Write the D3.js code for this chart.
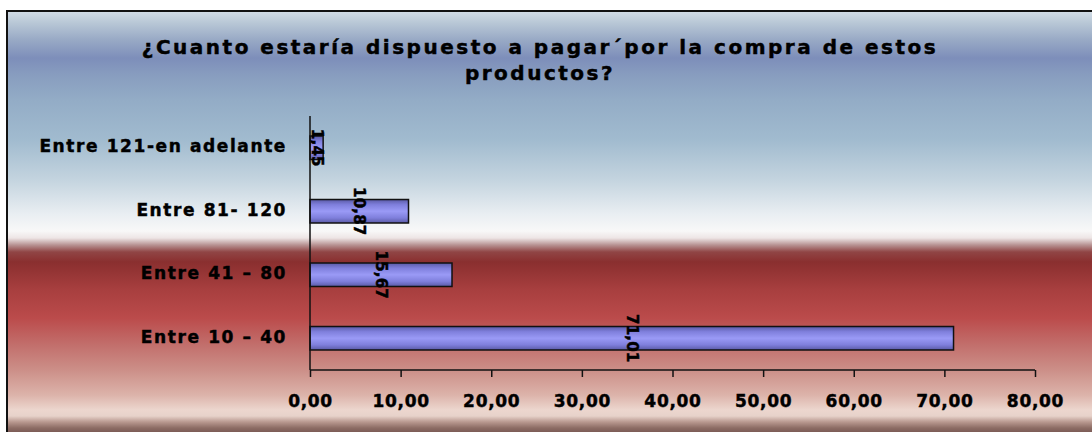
<!DOCTYPE html>
<html>
<head>
<meta charset="utf-8">
<script src="https://cdn.jsdelivr.net/npm/d3@7"></script>
<style>
  html, body { margin: 0; padding: 0; background: #ffffff; }
  svg { display: block; }
  text { font-family: "DejaVu Sans", Verdana, sans-serif; font-weight: bold; fill: #000; stroke: #000; stroke-width: 0.45px; }
</style>
</head>
<body>
<svg id="chart" width="1092" height="432"></svg>
<script>
// Price ranges (top to bottom) and share of respondents (%)
const categories = ["Entre 121-en adelante", "Entre 81- 120", "Entre 41 \u2013 80", "Entre 10 \u2013 40"];
const values = [1.45, 10.87, 15.67, 71.01];
const xTicks = [0, 10, 20, 30, 40, 50, 60, 70, 80];
const titleLines = ["\u00bfCuanto estar\u00eda dispuesto a pagar\u00b4por la compra de estos", "productos?"];

const W = 1092, H = 432;
const frame = { left: 7, top: 11 };
const plot = { left: 310, right: 1035, top: 116, bottom: 370 };

const fmt = v => v.toFixed(2).replace(".", ",");

const svg = d3.select("#chart");
const defs = svg.append("defs");

// Backdrop: blue sky fading to white, then a deep red band fading to pale pink
const bgStops = [
  [11, "#d3dde6"], [22, "#bac9d7"], [40, "#98a9c5"], [58, "#7d8eba"],
  [75, "#889dbf"], [100, "#93acc6"], [140, "#a1bbcf"], [180, "#c4d4df"],
  [214, "#e9eef2"], [231, "#f8f8f8"], [238, "#ede5e5"], [245, "#b79292"],
  [252, "#904545"], [262, "#8a2f2f"], [290, "#a83f3f"], [318, "#bb4b4b"],
  [345, "#c26f6c"], [370, "#cc8f88"], [395, "#dcb3aa"], [410, "#ecd6ce"],
  [416, "#e7d2ca"], [422, "#b8988f"], [428, "#8c6c64"], [432, "#7c5c56"]
];
const bg = defs.append("linearGradient")
  .attr("id", "bg").attr("gradientUnits", "userSpaceOnUse")
  .attr("x1", 0).attr("x2", 0).attr("y1", frame.top).attr("y2", H);
bg.selectAll("stop").data(bgStops).join("stop")
  .attr("offset", d => (d[0] - frame.top) / (H - frame.top))
  .attr("stop-color", d => d[1]);

// Cylindrical shading on the bars
const barGrad = defs.append("linearGradient")
  .attr("id", "bar").attr("x1", 0).attr("x2", 0).attr("y1", 0).attr("y2", 1);
barGrad.selectAll("stop").data([
  [0, "#5a5aa6"], [0.22, "#7f7fdc"], [0.5, "#9a9af6"], [0.78, "#7f7fdc"], [1, "#5a5aa6"]
]).join("stop").attr("offset", d => d[0]).attr("stop-color", d => d[1]);

svg.append("rect")
  .attr("x", frame.left).attr("y", frame.top)
  .attr("width", W - frame.left + 10).attr("height", H - frame.top + 10)
  .attr("fill", "url(#bg)").attr("stroke", "#111").attr("stroke-width", 2);

// Title
svg.append("g").selectAll("text").data(titleLines).join("text")
  .attr("x", 540).attr("y", (d, i) => 47 + i * 26)
  .attr("text-anchor", "middle").attr("dominant-baseline", "central")
  .attr("font-size", 20).attr("letter-spacing", 2.5)
  .text(d => d);

// Scales
const x = d3.scaleLinear().domain([0, 80]).range([plot.left, plot.right]);
const y = d3.scaleBand().domain(categories).range([plot.top, plot.bottom])
  .paddingInner(0.63).paddingOuter(0.315);

// Bars
svg.append("g").selectAll("rect").data(values).join("rect")
  .attr("x", x(0))
  .attr("y", (d, i) => y(categories[i]))
  .attr("width", d => x(d) - x(0))
  .attr("height", y.bandwidth())
  .attr("fill", "url(#bar)").attr("stroke", "#111").attr("stroke-width", 1.5);

// Value labels, rotated to read downward, centred on each bar
svg.append("g").selectAll("text").data(values).join("text")
  .attr("transform", (d, i) => `translate(${(x(0) + x(d)) / 2},${y(categories[i]) + y.bandwidth() / 2}) rotate(90)`)
  .attr("text-anchor", "middle").attr("dominant-baseline", "central")
  .attr("font-size", 15).attr("letter-spacing", 0.2)
  .text(d => fmt(d));

// Category axis
const yAxis = svg.append("g").attr("transform", `translate(${plot.left},0)`)
  .call(d3.axisLeft(y).tickSize(0).tickPadding(23));
yAxis.select(".domain").attr("stroke", "#111").attr("stroke-width", 1.5)
  .attr("d", `M0,${plot.top}V${plot.bottom}`);
yAxis.selectAll("text")
  .attr("font-size", 17).attr("letter-spacing", 1.6)
  .attr("dy", null).attr("dominant-baseline", "central")
  .attr("transform", "translate(0,-1.5)")
  .style("font-family", "'DejaVu Sans', Verdana, sans-serif").style("font-weight", "bold");

// Value axis
const xAxis = svg.append("g").attr("transform", `translate(0,${plot.bottom})`)
  .call(d3.axisBottom(x).tickValues(xTicks).tickFormat(fmt).tickSize(7).tickPadding(18));
xAxis.select(".domain").attr("stroke", "#111").attr("stroke-width", 1.5)
  .attr("d", `M${plot.left},0H${plot.right}`);
xAxis.selectAll(".tick line").attr("stroke", "#111").attr("stroke-width", 1.5);
xAxis.selectAll("text")
  .attr("font-size", 17).attr("letter-spacing", 0.7)
  .style("font-family", "'DejaVu Sans', Verdana, sans-serif").style("font-weight", "bold");
</script>
</body>
</html>
